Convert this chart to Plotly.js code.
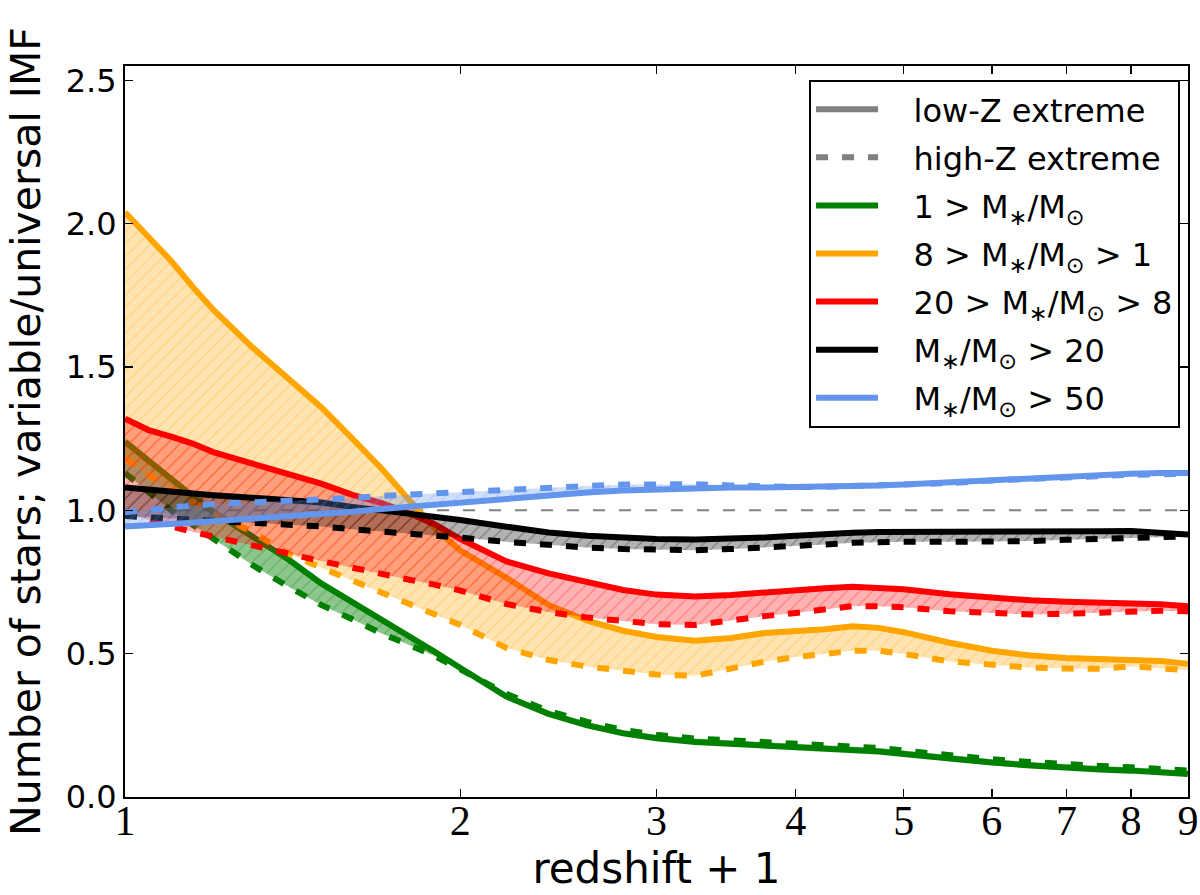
<!DOCTYPE html>
<html>
<head>
<meta charset="utf-8">
<script src="https://cdn.plot.ly/plotly-3.0.1.min.js"></script>
<style>html,body{margin:0;padding:0;background:#fff}</style>
</head>
<body>
<div id="plotElement" style="width:1200px;height:895px"></div>
<script>
// redshift + 1 sample points (shared by every curve)
const zPlusOne = [1, 1.05, 1.1, 1.15, 1.2, 1.3, 1.4, 1.5, 1.6, 1.7, 1.8, 1.9, 2.0, 2.2, 2.4, 2.6, 2.8, 3.0,
    3.25, 3.5, 3.75, 4.0, 4.25, 4.5, 4.75, 5.0, 5.5, 6.0, 6.5, 7.0, 7.5, 8.0, 8.5, 9.0];

// 1 > M*/Msun
const lowMassLowZ = [1.24, 1.17, 1.11, 1.05, 0.995, 0.91, 0.83, 0.745, 0.68, 0.62, 0.565, 0.505, 0.45, 0.35, 0.29, 0.25, 0.222, 0.205,
    0.192, 0.186, 0.18, 0.175, 0.171, 0.166, 0.159, 0.15, 0.133, 0.12, 0.11, 0.101, 0.096, 0.092, 0.087, 0.08];
const lowMassHighZ = [1.13, 1.065, 1.0, 0.95, 0.90, 0.81, 0.735, 0.67, 0.62, 0.57, 0.53, 0.49, 0.445, 0.36, 0.30, 0.262, 0.234, 0.217,
    0.204, 0.197, 0.192, 0.187, 0.183, 0.178, 0.171, 0.162, 0.145, 0.132, 0.122, 0.113, 0.108, 0.104, 0.099, 0.092];

// 8 > M*/Msun > 1
const interMassLowZ = [2.04, 1.95, 1.87, 1.78, 1.70, 1.57, 1.46, 1.36, 1.25, 1.145, 1.035, 0.935, 0.86, 0.765, 0.67, 0.615, 0.58, 0.558,
    0.545, 0.555, 0.572, 0.576, 0.585, 0.596, 0.59, 0.575, 0.538, 0.51, 0.494, 0.485, 0.482, 0.48, 0.474, 0.465];
const interMassHighZ = [1.18, 1.125, 1.07, 1.03, 0.99, 0.925, 0.85, 0.80, 0.755, 0.715, 0.675, 0.64, 0.60, 0.52, 0.478, 0.455, 0.438, 0.427,
    0.423, 0.45, 0.472, 0.488, 0.5, 0.51, 0.51, 0.499, 0.473, 0.46, 0.451, 0.448, 0.447, 0.456, 0.45, 0.442];

// 20 > M*/Msun > 8
const massiveLowZ = [1.32, 1.28, 1.257, 1.233, 1.203, 1.162, 1.128, 1.093, 1.054, 1.025, 0.99, 0.95, 0.9, 0.822, 0.78, 0.752, 0.722, 0.706,
    0.699, 0.705, 0.715, 0.722, 0.728, 0.733, 0.731, 0.725, 0.707, 0.695, 0.686, 0.681, 0.679, 0.677, 0.672, 0.665];
const massiveHighZ = [0.99, 0.965, 0.944, 0.925, 0.908, 0.878, 0.85, 0.823, 0.8, 0.776, 0.758, 0.74, 0.72, 0.673, 0.645, 0.626, 0.612, 0.603,
    0.6, 0.617, 0.631, 0.642, 0.655, 0.666, 0.665, 0.662, 0.648, 0.64, 0.637, 0.639, 0.643, 0.649, 0.65, 0.648];

// M*/Msun > 20
const above20LowZ = [1.08, 1.072, 1.064, 1.058, 1.053, 1.044, 1.037, 1.027, 1.012, 1.0, 0.99, 0.978, 0.966, 0.943, 0.923, 0.911, 0.904, 0.9,
    0.898, 0.9, 0.905, 0.911, 0.919, 0.922, 0.924, 0.924, 0.923, 0.922, 0.923, 0.924, 0.927, 0.928, 0.922, 0.916];
const above20HighZ = [0.98, 0.976, 0.972, 0.967, 0.963, 0.958, 0.952, 0.944, 0.934, 0.927, 0.92, 0.912, 0.905, 0.89, 0.879, 0.87, 0.865, 0.862,
    0.861, 0.865, 0.869, 0.874, 0.881, 0.887, 0.89, 0.89, 0.89, 0.89, 0.893, 0.897, 0.9, 0.905, 0.907, 0.909];

// M*/Msun > 50
const above50LowZ = [0.944, 0.947, 0.952, 0.957, 0.962, 0.97, 0.978, 0.986, 0.995, 1.005, 1.013, 1.02, 1.026, 1.038, 1.05, 1.062, 1.069, 1.074,
    1.079, 1.08, 1.08, 1.081, 1.083, 1.085, 1.087, 1.09, 1.098, 1.108, 1.115, 1.12, 1.125, 1.128, 1.13, 1.13];
const above50HighZ = [0.993, 1.003, 1.012, 1.017, 1.022, 1.027, 1.031, 1.036, 1.043, 1.05, 1.055, 1.06, 1.066, 1.074, 1.079, 1.085, 1.09, 1.092,
    1.091, 1.087, 1.083, 1.081, 1.082, 1.084, 1.086, 1.088, 1.095, 1.104, 1.111, 1.116, 1.121, 1.124, 1.126, 1.127];

// universal IMF reference
const unityX = [1, 9];
const unityY = [1, 1];

const xTickVals = [1, 2, 3, 4, 5, 6, 7, 8, 9];
const yTickVals = [0, 0.5, 1.0, 1.5, 2.0, 2.5];

const styleLabels = ['low-Z extreme', 'high-Z extreme'];
const groupLabels = [
    '1 &gt; M<sub>∗</sub>/M<sub>⊙</sub>',
    '8 &gt; M<sub>∗</sub>/M<sub>⊙</sub> &gt; 1',
    '20 &gt; M<sub>∗</sub>/M<sub>⊙</sub> &gt; 8',
    'M<sub>∗</sub>/M<sub>⊙</sub> &gt; 20',
    'M<sub>∗</sub>/M<sub>⊙</sub> &gt; 50'
];

const groups = [
    { low: lowMassLowZ, high: lowMassHighZ, rgb: '0,128,0', alpha: 0.45 },
    { low: interMassLowZ, high: interMassHighZ, rgb: '255,165,0', alpha: 0.3 },
    { low: massiveLowZ, high: massiveHighZ, rgb: '255,0,0', alpha: 0.3 },
    { low: above20LowZ, high: above20HighZ, rgb: '0,0,0', alpha: 0.3 },
    { low: above50LowZ, high: above50HighZ, rgb: '100,149,237', alpha: 0.3 }
];

const LW = 6;
const DASH = '12px,14px';
const PAD = '\u00a0\u00a0\u00a0'; // pushes legend text away from the sample line

const traces = [];
traces.push({
    x: unityX, y: unityY, mode: 'lines', showlegend: false, hoverinfo: 'skip',
    line: { color: '#808080', width: 2, dash: DASH }
});

for (const g of groups) {
    const col = 'rgb(' + g.rgb + ')';
    traces.push({
        x: zPlusOne, y: g.high, mode: 'lines', showlegend: false,
        line: { color: col, width: LW, dash: DASH }
    });
    traces.push({
        x: zPlusOne, y: g.low, mode: 'lines', showlegend: false,
        line: { color: col, width: LW },
        fill: 'tonexty',
        fillcolor: 'rgba(' + g.rgb + ',' + g.alpha + ')',
        fillpattern: {
            shape: '/', size: 9, solidity: 0.12,
            bgcolor: 'rgba(' + g.rgb + ',' + g.alpha + ')',
            fgcolor: col, fgopacity: 0.35
        }
    });
}

// legend-only entries, each in its own group so the gap between them can be set
traces.push({ x: [null], y: [null], mode: 'lines', name: PAD + styleLabels[0], legendgroup: 'a',
    line: { color: '#808080', width: LW } });
traces.push({ x: [null], y: [null], mode: 'lines', name: PAD + styleLabels[1], legendgroup: 'b',
    line: { color: '#808080', width: LW, dash: DASH } });
groups.forEach((g, i) => {
    traces.push({ x: [null], y: [null], mode: 'lines', name: PAD + groupLabels[i], legendgroup: 'g' + i,
        line: { color: 'rgb(' + g.rgb + ')', width: LW } });
});

const layout = {
    width: 1200,
    height: 895,
    margin: { l: 125, r: 12, t: 66, b: 98 },
    paper_bgcolor: '#fff',
    plot_bgcolor: '#fff',
    font: { family: 'DejaVu Sans', color: '#000' },
    showlegend: true,
    xaxis: {
        type: 'log',
        range: [0, Math.log10(9)],
        tickvals: xTickVals,
        ticktext: xTickVals.map(String),
        tickfont: { family: 'Liberation Serif', size: 42 },
        ticklabelstandoff: -14,
        ticks: 'inside', ticklen: 8, tickwidth: 1.5, tickcolor: '#000',
        showline: true, linecolor: '#000', linewidth: 2, mirror: 'ticks',
        showgrid: false, zeroline: false,
        title: { text: 'redshift + 1', font: { size: 42 }, standoff: 6 }
    },
    yaxis: {
        range: [0, 2.55],
        tickvals: yTickVals,
        tickformat: '.1f',
        tickfont: { size: 32 },
        ticks: 'inside', ticklen: 8, tickwidth: 1.5, tickcolor: '#000',
        showline: true, linecolor: '#000', linewidth: 2, mirror: 'ticks',
        showgrid: false, zeroline: false,
        title: { text: 'Number of stars; variable/universal IMF', font: { size: 41 }, standoff: 12 }
    },
    legend: {
        x: 0.6435, y: 0.981, xanchor: 'left', yanchor: 'top',
        bgcolor: '#fff', bordercolor: '#000', borderwidth: 2,
        font: { size: 32 },
        traceorder: 'grouped',
        tracegroupgap: 3.5,
        itemwidth: 62
    }
};

Plotly.newPlot('plotElement', traces, layout, { staticPlot: true });
</script>
</body>
</html>
